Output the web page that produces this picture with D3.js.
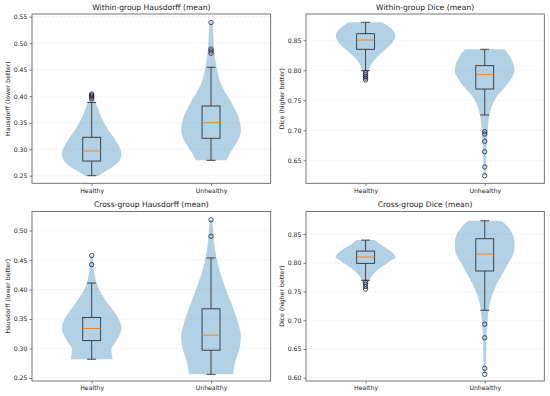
<!DOCTYPE html>
<html>
<head>
<meta charset="utf-8">
<script src="https://cdn.jsdelivr.net/npm/d3@7"></script>
<style>
  body { margin: 0; background: #fff; }
  svg { display: block; font-family: "DejaVu Sans", sans-serif; }
</style>
</head>
<body>
<div id="chart"></div>
<script>
// groups on the x axis
var groups = ["Healthy", "Unhealthy"];

var titles = ["Within-group Hausdorff (mean)", "Within-group Dice (mean)",
              "Cross-group Hausdorff (mean)", "Cross-group Dice (mean)"];
var yLabels = ["Hausdorff (lower better)", "Dice (higher better)",
               "Hausdorff (lower better)", "Dice (higher better)"];

// y tick labels per panel
var ticksWithinHaus = [0.25, 0.30, 0.35, 0.40, 0.45, 0.50, 0.55];
var ticksWithinDice = [0.65, 0.70, 0.75, 0.80, 0.85];
var ticksCrossHaus  = [0.25, 0.30, 0.35, 0.40, 0.45, 0.50];
var ticksCrossDice  = [0.60, 0.65, 0.70, 0.75, 0.80, 0.85];

// y ranges (data range + matplotlib margin)
var domWithinHaus = [0.2357, 0.555];
var domWithinDice = [0.6117, 0.8938];
var domCrossHaus  = [0.2449, 0.5323];
var domCrossDice  = [0.5943, 0.8894];

// violin outlines: [value, relative half width]
var violinWithinHausHealthy = [[0.2495,0.22],[0.256,0.4],[0.262,0.58],[0.273,0.84],[0.284,0.98],[0.292,1.0],
  [0.302,0.95],[0.311,0.86],[0.322,0.74],[0.33,0.64],[0.342,0.5],[0.355,0.37],[0.368,0.27],[0.38,0.19],
  [0.39,0.11],[0.397,0.06],[0.404,0.03]];
var violinWithinHausUnhealthy = [[0.279,0.5],[0.284,0.56],[0.292,0.63],[0.30,0.72],[0.31,0.83],[0.32,0.93],
  [0.335,1.0],[0.35,0.97],[0.365,0.89],[0.38,0.76],[0.393,0.64],[0.405,0.5],[0.418,0.38],[0.43,0.29],
  [0.445,0.22],[0.46,0.17],[0.475,0.13],[0.49,0.1],[0.51,0.08],[0.53,0.06],[0.541,0.04]];
var violinWithinDiceHealthy = [[0.7835,0.04],[0.79,0.06],[0.80,0.11],[0.812,0.22],[0.823,0.4],[0.833,0.63],
  [0.842,0.83],[0.85,0.95],[0.858,1.0],[0.866,0.93],[0.873,0.78],[0.88,0.55]];
var violinWithinDiceUnhealthy = [[0.6243,0.03],[0.64,0.04],[0.655,0.05],[0.67,0.06],[0.684,0.08],[0.70,0.1],
  [0.717,0.13],[0.734,0.2],[0.745,0.28],[0.756,0.4],[0.767,0.6],[0.778,0.78],[0.79,0.94],[0.799,1.0],
  [0.81,0.97],[0.82,0.88],[0.828,0.78],[0.835,0.66]];
var violinCrossHausHealthy = [[0.2818,0.7],[0.288,0.68],[0.299,0.66],[0.308,0.76],[0.318,0.88],[0.327,0.97],
  [0.336,1.0],[0.346,0.94],[0.355,0.85],[0.365,0.72],[0.376,0.55],[0.387,0.4],[0.398,0.27],[0.41,0.17],
  [0.422,0.11],[0.435,0.07],[0.447,0.05],[0.4575,0.03]];
var violinCrossHausUnhealthy = [[0.2562,0.74],[0.262,0.76],[0.276,0.8],[0.289,0.89],[0.30,0.95],[0.311,0.99],
  [0.322,1.0],[0.335,0.95],[0.348,0.88],[0.36,0.8],[0.373,0.71],[0.387,0.6],[0.40,0.5],[0.415,0.4],
  [0.43,0.3],[0.445,0.22],[0.458,0.17],[0.472,0.12],[0.486,0.09],[0.50,0.07],[0.518,0.04]];
var violinCrossDiceHealthy = [[0.7545,0.04],[0.76,0.07],[0.767,0.11],[0.774,0.17],[0.781,0.27],[0.788,0.41],
  [0.795,0.6],[0.802,0.8],[0.81,1.0],[0.817,0.92],[0.824,0.74],[0.832,0.5],[0.8396,0.3]];
var violinCrossDiceUnhealthy = [[0.6059,0.03],[0.626,0.045],[0.645,0.05],[0.661,0.055],[0.68,0.07],[0.696,0.09],
  [0.713,0.12],[0.73,0.17],[0.745,0.26],[0.759,0.37],[0.774,0.52],[0.788,0.67],[0.80,0.8],[0.814,0.95],
  [0.826,1.0],[0.837,1.0],[0.848,0.95],[0.858,0.84],[0.866,0.72],[0.8733,0.55]];

// box stats: [whisker low, q1, median, q3, whisker high]
var boxWithinHausHealthy   = [0.25, 0.2777, 0.2966, 0.3225, 0.388];
var boxWithinHausUnhealthy = [0.279, 0.3206, 0.350, 0.3815, 0.4545];
var boxWithinDiceHealthy   = [0.7993, 0.835, 0.8505, 0.861, 0.880];
var boxWithinDiceUnhealthy = [0.7255, 0.7688, 0.7927, 0.8077, 0.835];
var boxCrossHausHealthy    = [0.2818, 0.3134, 0.3339, 0.3526, 0.411];
var boxCrossHausUnhealthy  = [0.2562, 0.2971, 0.3226, 0.3673, 0.4536];
var boxCrossDiceHealthy    = [0.7696, 0.7991, 0.810, 0.8205, 0.8396];
var boxCrossDiceUnhealthy  = [0.7175, 0.7858, 0.8153, 0.842, 0.8733];

// outliers
var outWithinHausHealthy   = [0.395, 0.398, 0.400, 0.402, 0.404];
var outWithinHausUnhealthy = [0.481, 0.4853, 0.489, 0.539];
var outWithinDiceHealthy   = [0.784, 0.787, 0.790, 0.793, 0.796];
var outWithinDiceUnhealthy = [0.6243, 0.6388, 0.6643, 0.6817, 0.6938, 0.6977];
var outCrossHausHealthy    = [0.4422, 0.4575];
var outCrossHausUnhealthy  = [0.4903, 0.5182];
var outCrossDiceHealthy    = [0.7545, 0.7587, 0.7627, 0.7661];
var outCrossDiceUnhealthy  = [0.6059, 0.6163, 0.6695, 0.6932];

var panels = [
  { left: 32, top: 14, right: 270.7, bottom: 183.3, dom: domWithinHaus, ticks: ticksWithinHaus,
    violins: [violinWithinHausHealthy, violinWithinHausUnhealthy],
    boxes: [boxWithinHausHealthy, boxWithinHausUnhealthy],
    outs: [outWithinHausHealthy, outWithinHausUnhealthy] },
  { left: 306, top: 14, right: 544.3, bottom: 183.3, dom: domWithinDice, ticks: ticksWithinDice,
    violins: [violinWithinDiceHealthy, violinWithinDiceUnhealthy],
    boxes: [boxWithinDiceHealthy, boxWithinDiceUnhealthy],
    outs: [outWithinDiceHealthy, outWithinDiceUnhealthy] },
  { left: 32, top: 211.5, right: 270.7, bottom: 381, dom: domCrossHaus, ticks: ticksCrossHaus,
    violins: [violinCrossHausHealthy, violinCrossHausUnhealthy],
    boxes: [boxCrossHausHealthy, boxCrossHausUnhealthy],
    outs: [outCrossHausHealthy, outCrossHausUnhealthy] },
  { left: 306, top: 211.5, right: 544.3, bottom: 381, dom: domCrossDice, ticks: ticksCrossDice,
    violins: [violinCrossDiceHealthy, violinCrossDiceUnhealthy],
    boxes: [boxCrossDiceHealthy, boxCrossDiceUnhealthy],
    outs: [outCrossDiceHealthy, outCrossDiceUnhealthy] }
];

var svg = d3.select("#chart").append("svg")
    .attr("width", 550)
    .attr("height", 396);

panels.forEach(function(p, i) {
    var w = p.right - p.left, h = p.bottom - p.top;
    var g = svg.append("g").attr("transform", "translate(" + p.left + "," + p.top + ")");

    var x = d3.scaleLinear().domain([0.5, 2.5]).range([0, w]);
    var y = d3.scaleLinear().domain(p.dom).range([h, 0]);

    // grid
    g.selectAll(".grid").data(p.ticks).enter().append("line")
        .attr("x1", 0).attr("x2", w)
        .attr("y1", function(d) { return y(d); })
        .attr("y2", function(d) { return y(d); })
        .attr("stroke", "#b0b0b0")
        .attr("stroke-opacity", 0.35)
        .attr("stroke-width", 0.6)
        .attr("stroke-dasharray", "2,2");

    // violins
    p.violins.forEach(function(v, k) {
        var pos = k + 1;
        var area = d3.area()
            .y(function(d) { return y(d[0]); })
            .x0(function(d) { return x(pos - d[1] * 0.25); })
            .x1(function(d) { return x(pos + d[1] * 0.25); })
            .curve(d3.curveMonotoneY);
        g.append("path")
            .datum(v)
            .attr("d", area)
            .attr("fill", "#1f77b4")
            .attr("fill-opacity", 0.34);
    });

    // boxes
    p.boxes.forEach(function(b, k) {
        var pos = k + 1;
        var bx0 = x(pos - 0.075), bx1 = x(pos + 0.075);
        var cx0 = x(pos - 0.0375), cx1 = x(pos + 0.0375);
        var col = "#333";
        // whiskers
        g.append("line").attr("x1", x(pos)).attr("x2", x(pos))
            .attr("y1", y(b[0])).attr("y2", y(b[1]))
            .attr("stroke", col).attr("stroke-width", 0.9);
        g.append("line").attr("x1", x(pos)).attr("x2", x(pos))
            .attr("y1", y(b[3])).attr("y2", y(b[4]))
            .attr("stroke", col).attr("stroke-width", 0.9);
        // caps
        [b[0], b[4]].forEach(function(c) {
            g.append("line").attr("x1", cx0).attr("x2", cx1)
                .attr("y1", y(c)).attr("y2", y(c))
                .attr("stroke", col).attr("stroke-width", 0.9);
        });
        // box
        g.append("rect")
            .attr("x", bx0).attr("y", y(b[3]))
            .attr("width", bx1 - bx0).attr("height", y(b[1]) - y(b[3]))
            .attr("fill", "none").attr("stroke", col).attr("stroke-width", 0.9);
        // median
        g.append("line").attr("x1", bx0).attr("x2", bx1)
            .attr("y1", y(b[2])).attr("y2", y(b[2]))
            .attr("stroke", "#ff7f0e").attr("stroke-width", 0.9);
    });

    // outliers
    p.outs.forEach(function(o, k) {
        var pos = k + 1;
        g.selectAll(".out" + k).data(o).enter().append("circle")
            .attr("cx", x(pos))
            .attr("cy", function(d) { return y(d); })
            .attr("r", 2.2)
            .attr("fill", "none")
            .attr("stroke", "#223")
            .attr("stroke-width", 0.8);
    });

    // axes
    var ya = g.append("g")
        .call(d3.axisLeft(y).tickValues(p.ticks).tickFormat(d3.format(".2f")).tickSize(2.5).tickPadding(2));
    var xa = g.append("g")
        .attr("transform", "translate(0," + h + ")")
        .call(d3.axisBottom(x).tickValues([1, 2]).tickFormat(function(d) { return groups[d - 1]; })
              .tickSize(2.5).tickPadding(2.5));
    [ya, xa].forEach(function(a) {
        a.select(".domain").remove();
        a.selectAll("line").attr("stroke", "#444").attr("stroke-width", 0.7);
        a.selectAll("text").attr("font-size", "6.2px").attr("fill", "#222")
            .attr("font-family", "DejaVu Sans, sans-serif");
    });

    // frame
    g.append("rect").attr("width", w).attr("height", h)
        .attr("fill", "none").attr("stroke", "#555").attr("stroke-width", 0.8);

    // title
    g.append("text")
        .attr("x", w / 2).attr("y", -4.5)
        .attr("text-anchor", "middle")
        .attr("font-size", "7.6px")
        .attr("fill", "#222")
        .text(titles[i]);

    // y label
    g.append("text")
        .attr("transform", "translate(-22.5," + (h / 2) + ")rotate(-90)")
        .attr("text-anchor", "middle")
        .attr("font-size", "6.2px")
        .attr("fill", "#222")
        .text(yLabels[i]);
});
</script>
</body>
</html>
